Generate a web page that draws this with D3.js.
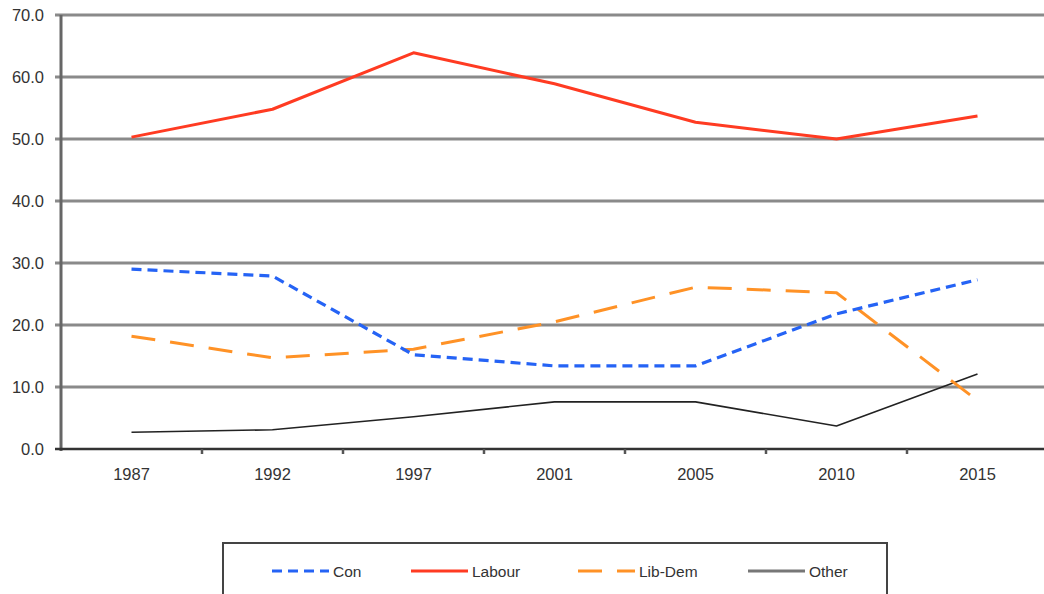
<!DOCTYPE html>
<html>
<head>
<meta charset="utf-8">
<script src="https://cdn.jsdelivr.net/npm/d3@7"></script>
<style>
  body { margin: 0; background: #fff; }
  text { font-family: "Liberation Sans", Arial, sans-serif; fill: #333; }
</style>
</head>
<body>
<svg id="chart" width="1044" height="594"></svg>
<script>
const years = ["1987", "1992", "1997", "2001", "2005", "2010", "2015"];
const con = [29.0, 27.9, 15.2, 13.4, 13.4, 21.8, 27.3];
const labour = [50.3, 54.8, 63.9, 58.9, 52.7, 50.0, 53.7];
const libDem = [18.2, 14.7, 16.1, 20.5, 26.1, 25.2, 7.8];
const other = [2.7, 3.1, 5.2, 7.6, 7.6, 3.7, 12.1];
const yTicks = [0, 10, 20, 30, 40, 50, 60, 70];

const series = [
  { name: "Con", values: con, color: "#2563f5", width: 3.2, dash: "10,6" },
  { name: "Labour", values: labour, color: "#ff3b22", width: 3, dash: null },
  { name: "Lib-Dem", values: libDem, color: "#ff9226", width: 3, dash: "24,15" },
  { name: "Other", values: other, color: "#222", width: 1.6, dash: null, legendColor: "#777" },
];

const margin = { left: 61, top: 15 };
const plotW = 987;
const plotH = 434;

const svg = d3.select("#chart");
const g = svg.append("g").attr("transform", `translate(${margin.left},${margin.top})`);

const x = d3.scaleBand().domain(years).range([0, plotW]);
const y = d3.scaleLinear().domain([0, 70]).range([plotH, 0]);

// grid
g.selectAll("line.grid")
  .data(yTicks.slice(1))
  .join("line")
  .attr("class", "grid")
  .attr("x1", -6)
  .attr("x2", plotW)
  .attr("y1", (d) => y(d))
  .attr("y2", (d) => y(d))
  .attr("stroke", "#8a8a8a")
  .attr("stroke-width", 3);

// y labels
g.selectAll("text.ylab")
  .data(yTicks)
  .join("text")
  .attr("class", "ylab")
  .attr("x", -17)
  .attr("y", (d) => y(d))
  .attr("dy", "0.36em")
  .attr("text-anchor", "end")
  .attr("font-size", 16.5)
  .text((d) => d.toFixed(1));

// y axis
g.append("line")
  .attr("x1", 0).attr("x2", 0)
  .attr("y1", 0).attr("y2", plotH + 2)
  .attr("stroke", "#666")
  .attr("stroke-width", 3);

// x axis
g.append("line")
  .attr("x1", -6).attr("x2", plotW)
  .attr("y1", plotH).attr("y2", plotH)
  .attr("stroke", "#333")
  .attr("stroke-width", 2.5);

g.selectAll("line.xtick")
  .data(years.slice(1))
  .join("line")
  .attr("class", "xtick")
  .attr("x1", (d) => x(d))
  .attr("x2", (d) => x(d))
  .attr("y1", plotH)
  .attr("y2", plotH + 5)
  .attr("stroke", "#555")
  .attr("stroke-width", 2.5);

g.selectAll("text.xlab")
  .data(years)
  .join("text")
  .attr("class", "xlab")
  .attr("x", (d) => x(d) + x.bandwidth() / 2)
  .attr("y", plotH + 31)
  .attr("text-anchor", "middle")
  .attr("font-size", 16.5)
  .text((d) => d);

// lines
const line = d3.line()
  .x((d, i) => x(years[i]) + x.bandwidth() / 2)
  .y((d) => y(d));

const order = [series[3], series[2], series[0], series[1]];
g.selectAll("path.series")
  .data(order)
  .join("path")
  .attr("class", "series")
  .attr("d", (s) => line(s.values))
  .attr("fill", "none")
  .attr("stroke", (s) => s.color)
  .attr("stroke-width", (s) => s.width)
  .attr("stroke-dasharray", (s) => s.dash)
  .attr("stroke-linejoin", "round");

// legend
const legend = svg.append("g");
legend.append("rect")
  .attr("x", 223)
  .attr("y", 543)
  .attr("width", 664)
  .attr("height", 60)
  .attr("fill", "#fff")
  .attr("stroke", "#444")
  .attr("stroke-width", 2);

const legendX = [272, 411, 578, 748];
const items = legend.selectAll("g.item")
  .data(series)
  .join("g")
  .attr("class", "item")
  .attr("transform", (d, i) => `translate(${legendX[i]},571)`);

items.append("line")
  .attr("x1", 0).attr("x2", 57)
  .attr("y1", 0).attr("y2", 0)
  .attr("stroke", (s) => s.legendColor || s.color)
  .attr("stroke-width", 3)
  .attr("stroke-dasharray", (s) => (s.name === "Con" ? "10,6" : s.name === "Lib-Dem" ? "24,15" : null));

items.append("text")
  .attr("x", 61)
  .attr("dy", "0.36em")
  .attr("font-size", 15.5)
  .text((s) => s.name);
</script>
</body>
</html>
